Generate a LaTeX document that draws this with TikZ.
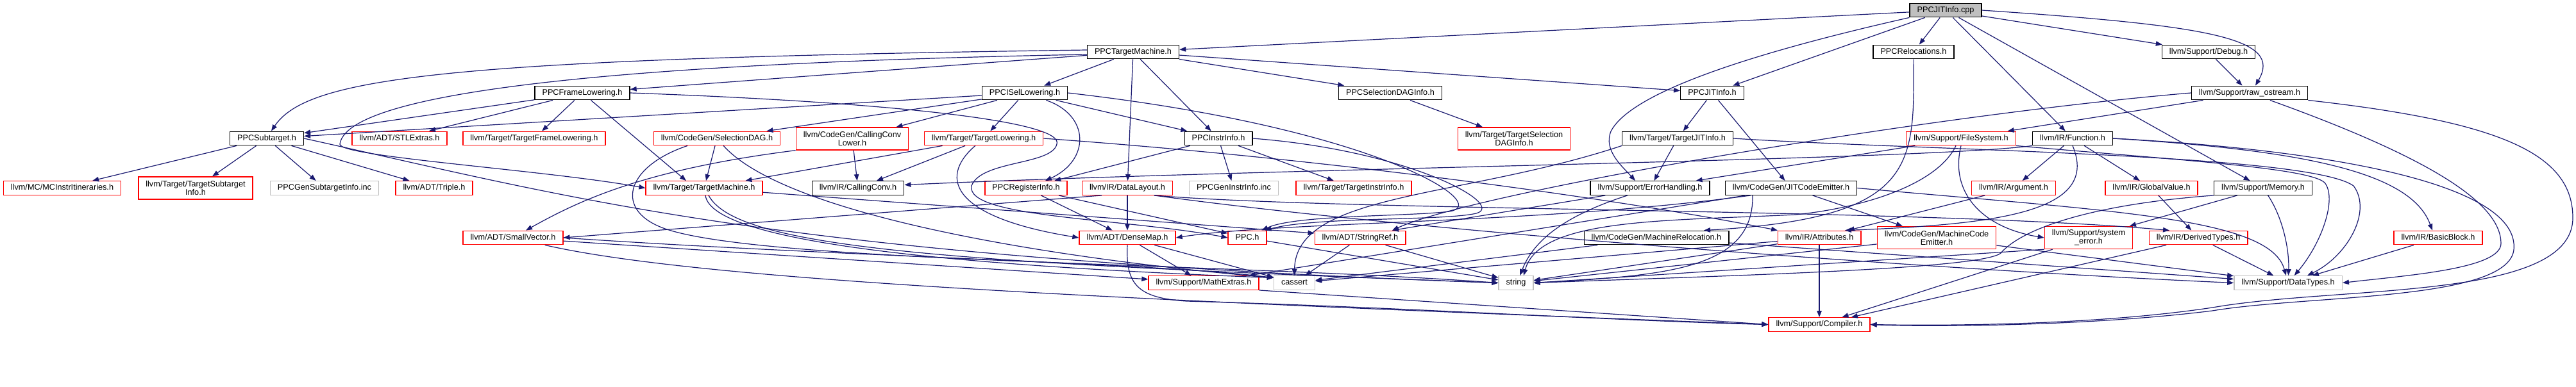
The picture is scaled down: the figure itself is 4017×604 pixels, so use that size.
\documentclass[tikz,border=0pt]{standalone}
\usepackage{fontspec}
\setmainfont{Liberation Sans}
\usepackage{tikz}
\usetikzlibrary{arrows.meta}

\definecolor{incl}{HTML}{191970}
\definecolor{boxgray}{HTML}{BFBFBF}

\tikzset{
  hdr/.style={draw=black, line width=1.4pt, fill=white, inner xsep=11.5pt, inner ysep=0pt,
    minimum height=21.5pt, text height=9.3pt, text depth=2.7pt, align=center,
    font=\fontsize{12.7}{13}\selectfont},
  two/.style={text height={}, text depth={}, minimum height=35pt},
  trunc/.style={hdr, draw=red},
  sys/.style={hdr, draw=boxgray},
  mainfile/.style={hdr, fill=boxgray},
  dep/.style={incl, line width=1.2pt, -{Triangle[length=10pt,width=7.5pt]}}
}

\begin{document}
\begin{tikzpicture}[x=1pt, y=-1pt]
  \useasboundingbox (0,0) rectangle (4017,604);

  % headers, row by row
  \node[mainfile] (cpp) at (3034,16) {PPCJITInfo.cpp};

  \node[hdr] (tm) at (1767,81) {PPCTargetMachine.h};
  \node[hdr] (reloc) at (2984,81) {PPCRelocations.h};
  \node[hdr] (dbg) at (3444,81) {llvm/Support/Debug.h};

  \node[hdr] (frame) at (908,145) {PPCFrameLowering.h};
  \node[hdr] (isel) at (1598,145) {PPCISelLowering.h};
  \node[hdr] (sdag) at (2168,145) {PPCSelectionDAGInfo.h};
  \node[hdr] (jit) at (2670,145) {PPCJITInfo.h};
  \node[hdr] (ros) at (3508,145) {llvm/Support/raw\_ostream.h};

  \node[hdr] (sub) at (416,216) {PPCSubtarget.h};
  \node[trunc] (stl) at (623,216) {llvm/ADT/STLExtras.h};
  \node[trunc] (tfl) at (833,216) {llvm/Target/TargetFrameLowering.h};
  \node[trunc] (seldag) at (1118,216) {llvm/CodeGen/SelectionDAG.h};
  \node[trunc, two] (ccl) at (1329,216.5) {llvm/CodeGen/CallingConv\\Lower.h};
  \node[trunc] (tlow) at (1534,216) {llvm/Target/TargetLowering.h};
  \node[hdr] (instr) at (1900,216) {PPCInstrInfo.h};
  \node[trunc, two] (tsdi) at (2361,216.5) {llvm/Target/TargetSelection\\DAGInfo.h};
  \node[hdr] (tjit) at (2616,216) {llvm/Target/TargetJITInfo.h};
  \node[trunc] (fs) at (3058,216) {llvm/Support/FileSystem.h};
  \node[hdr] (func) at (3232,216) {llvm/IR/Function.h};

  \node[trunc] (itin) at (97,293.5) {llvm/MC/MCInstrItineraries.h};
  \node[trunc, two] (tsub) at (305,293.5) {llvm/Target/TargetSubtarget\\Info.h};
  \node[sys] (gensub) at (506,293.5) {PPCGenSubtargetInfo.inc};
  \node[trunc] (triple) at (677,293.5) {llvm/ADT/Triple.h};
  \node[trunc] (tmach) at (1098,293.5) {llvm/Target/TargetMachine.h};
  \node[hdr] (cconv) at (1338,293.5) {llvm/IR/CallingConv.h};
  \node[trunc] (reg) at (1600,293.5) {PPCRegisterInfo.h};
  \node[trunc] (dl) at (1758,293.5) {llvm/IR/DataLayout.h};
  \node[sys] (genin) at (1924,293.5) {PPCGenInstrInfo.inc};
  \node[trunc] (tii) at (2111,293.5) {llvm/Target/TargetInstrInfo.h};
  \node[hdr] (err) at (2573,293.5) {llvm/Support/ErrorHandling.h};
  \node[hdr] (jce) at (2793,293.5) {llvm/CodeGen/JITCodeEmitter.h};
  \node[trunc] (arg) at (3140,293.5) {llvm/IR/Argument.h};
  \node[trunc] (gv) at (3355,293.5) {llvm/IR/GlobalValue.h};
  \node[hdr] (mem) at (3529,293.5) {llvm/Support/Memory.h};

  \node[trunc] (svec) at (800,371) {llvm/ADT/SmallVector.h};
  \node[trunc] (dmap) at (1758,371) {llvm/ADT/DenseMap.h};
  \node[trunc] (ppc) at (1945,371) {PPC.h};
  \node[trunc] (sref) at (2121,371) {llvm/ADT/StringRef.h};
  \node[hdr] (mreloc) at (2583,371) {llvm/CodeGen/MachineRelocation.h};
  \node[trunc] (attr) at (2837,371) {llvm/IR/Attributes.h};
  \node[trunc, two] (mce) at (3020,371) {llvm/CodeGen/MachineCode\\Emitter.h};
  \node[trunc, two] (syserr) at (3257,371) {llvm/Support/system\\\_error.h};
  \node[trunc] (dtypes) at (3428,371) {llvm/IR/DerivedTypes.h};
  \node[trunc] (bb) at (3802,371) {llvm/IR/BasicBlock.h};

  \node[trunc] (math) at (1877,441.5) {llvm/Support/MathExtras.h};
  \node[sys] (cassert) at (2018.5,441.5) {cassert};
  \node[sys] (str) at (2364,441.5) {string};
  \node[sys] (types) at (3568,441.5) {llvm/Support/DataTypes.h};

  \node[trunc] (comp) at (2837,506.5) {llvm/Support/Compiler.h};

  % PPCJITInfo.cpp
  \draw[dep] (cpp) -- (tm);
  \draw[dep] (cpp) -- (reloc);
  \draw[dep] (cpp) -- (jit);
  \draw[dep] (cpp.south west) .. controls (2700,90) and (2540,150) .. (2512,205)
    .. controls (2500,235) and (2530,260) .. ([xshift=-23pt]err.north);
  \draw[dep] (cpp) -- (func);
  \draw[dep] (cpp) -- (mem);
  \draw[dep] (cpp) -- (dbg);
  \draw[dep] (cpp.east) .. controls (3450,40) and (3560,60) .. ([xshift=9pt]ros.north);

  % PPCTargetMachine.h
  \draw[dep] ([yshift=3pt]tm.west) .. controls (700,92) and (480,120) .. ([xshift=7pt]sub.north);
  \draw[dep] (tm) -- (frame);
  \draw[dep] (tm) -- (isel);
  \draw[dep] (tm) -- (dl);
  \draw[dep] (tm) -- (instr);
  \draw[dep] (tm) -- (sdag);
  \draw[dep] (tm) -- (jit);
  \draw[dep] ([yshift=-4pt]tm.west) .. controls (900,100) and (540,150) .. (530,225)
    .. controls (530,245) and (850,265) .. (tmach.west);

  % PPCFrameLowering.h
  \draw[dep] (frame) -- (sub);
  \draw[dep] (frame) -- (stl);
  \draw[dep] (frame) -- (tfl);
  \draw[dep] (frame) -- ([xshift=-28pt]tmach.north);
  \draw[dep] (frame.east) .. controls (1400,160) and (1660,190) .. (1648,225)
    .. controls (1640,258) and (1530,250) .. (1515,290)
    .. controls (1505,340) and (1750,340) .. (ppc.west);

  % PPCISelLowering.h
  \draw[dep] (isel) -- (sub);
  \draw[dep] (isel) -- (seldag);
  \draw[dep] (isel) -- (ccl);
  \draw[dep] (isel) -- (tlow);
  \draw[dep] (isel) .. controls (1700,180) and (1700,250) .. ([xshift=30pt]reg.north);
  \draw[dep] (isel) -- (instr);
  \draw[dep] (isel.east) .. controls (2150,200) and (2330,320) .. (2260,330)
    .. controls (2200,338) and (2020,335) .. ([xshift=-8pt]ppc.north east);

  % the other PPC headers
  \draw[dep] (sdag) -- (tsdi);
  \draw[dep] (jit) -- (tjit);
  \draw[dep] (jit) -- (jce);
  \draw[dep] (reloc) .. controls (2985,260) and (2990,340) .. ([xshift=74pt]mreloc.north);
  \draw[dep] (instr) -- (reg);
  \draw[dep] (instr) -- (genin);
  \draw[dep] (instr) -- (tii);
  \draw[dep] (instr.east) .. controls (2200,235) and (2350,320) .. (2302,333)
    .. controls (2250,345) and (2050,338) .. ([xshift=-3pt]ppc.north east);
  \draw[dep] (reg) -- (dmap);
  \draw[dep] (reg) -- (ppc);
  \draw[dep] (ppc) -- (str);

  % PPCSubtarget.h
  \draw[dep] (sub) -- (itin);
  \draw[dep] (sub) -- (tsub);
  \draw[dep] (sub) -- (gensub);
  \draw[dep] (sub) -- (triple);
  \draw[dep] (sub.east) .. controls (900,310) and (1200,400) .. (str.west);

  % llvm/Target and llvm/CodeGen
  \draw[dep] (tmach) -- ([yshift=7pt]sref.west);
  \draw[dep] ([xshift=2pt]tmach.south) .. controls (1110,380) and (1500,415) .. ([yshift=8pt]cassert.west);
  \draw[dep] ([xshift=7pt]tmach.south) .. controls (1150,390) and (1500,410) .. (str.west);
  \draw[dep] (seldag) -- (tmach);
  \draw[dep] (seldag) .. controls (1220,330) and (1600,400) .. ([yshift=8pt]cassert.west);
  \draw[dep] ([xshift=-46pt]seldag.south) .. controls (975,260) and (955,330) .. (1040,358)
    .. controls (1200,410) and (1900,410) .. (str.west);
  \draw[dep] (ccl) -- (cconv);
  \draw[dep] (ccl.south west) .. controls (1000,265) and (900,315) .. ([xshift=20pt]svec.north);
  \draw[dep] (tlow) -- (tmach);
  \draw[dep] (tlow) -- (cconv);
  \draw[dep] (tlow) .. controls (1460,280) and (1490,340) .. (dmap.west);
  \draw[dep] (tlow.east) .. controls (2100,250) and (2550,315) .. ([xshift=-65pt]attr.north);
  \draw[dep] (tjit) -- (err);
  \draw[dep] (tjit.south west) .. controls (2280,310) and (2020,300) .. (cassert.north);
  \draw[dep] (tjit.east) .. controls (3000,235) and (3600,240) .. (3670,290)
    .. controls (3700,330) and (3660,400) .. ([xshift=30pt]types.north);
  \draw[dep] (jce) -- (mce);
  \draw[dep] ([xshift=-63pt]jce.south) .. controls (2400,350) and (2000,345) .. (dmap.east);
  \draw[dep] (jce.east) .. controls (3300,330) and (3540,340) .. (types);
  \draw[dep] (jce) -- (math);
  \draw[dep] ([xshift=-60pt]jce.south) .. controls (2735,420) and (2600,430) .. (str.east);
  \draw[dep] (mreloc) -- (cassert);
  \draw[dep] (mreloc) -- (types);
  \draw[dep] (mce) -- (types);
  \draw[dep] (mce) -- (str);

  % llvm/IR
  \draw[dep] (func) -- (arg);
  \draw[dep] (func) -- (gv);
  \draw[dep] (func.south west) .. controls (3000,250) and (2000,262) .. ([yshift=5pt]cconv.east);
  \draw[dep] (func.south) .. controls (3275,330) and (3120,350) .. ([xshift=40pt]attr.north);
  \draw[dep] (func.east) .. controls (3600,235) and (3760,270) .. ([xshift=-9pt]bb.north);
  \draw[dep] (func.east) .. controls (3650,235) and (3930,290) .. (3920,390)
    .. controls (3910,470) and (3600,460) .. (3450,485)
    .. controls (3250,510) and (3000,510) .. (comp.east);
  \draw[dep] (arg) -- (attr);
  \draw[dep] (gv) -- (dtypes);
  \draw[dep] (bb) -- (types);
  \draw[dep] (attr) -- (comp);
  \draw[dep] (attr) -- (str);
  \draw[dep] (attr) -- (cassert);
  \draw[dep] (dtypes) -- (types);
  \draw[dep] (dtypes) -- (comp);
  \draw[dep] (dl) -- (dmap);
  \draw[dep] ([xshift=-40pt]dl.south) -- (svec.east);
  \draw[dep] ([xshift=42pt]dl.south) .. controls (2100,330) and (3000,325) .. ([xshift=-45pt]dtypes.north);
  \draw[dep] ([xshift=42pt]dl.south) .. controls (2200,360) and (3000,420) .. (types.west);

  % llvm/Support and llvm/ADT
  \draw[dep] (dbg) -- (ros);
  \draw[dep] (ros) -- (fs);
  \draw[dep] (ros.west) .. controls (3000,180) and (2300,300) .. ([xshift=50pt]sref.north);
  \draw[dep] (ros) .. controls (3800,250) and (3900,320) .. (3900,380)
    .. controls (3900,420) and (3750,430) .. (types.east);
  \draw[dep] (ros.south east) .. controls (3900,190) and (4012,240) .. (4012,340)
    .. controls (4012,470) and (3650,445) .. (3450,480)
    .. controls (3250,510) and (3000,508) .. (comp.east);
  \draw[dep] (fs) -- (err);
  \draw[dep] (fs.south) .. controls (3040,300) and (3090,355) .. (syserr.west);
  \draw[dep] (fs.south east) .. controls (3400,250) and (3600,262) .. (3625,285)
    .. controls (3645,310) and (3620,380) .. (types);
  \draw[dep] ([xshift=-8pt]fs.south) .. controls (3020,290) and (2900,325) .. (2800,335)
    .. controls (2600,345) and (2400,340) .. ([xshift=12pt]str.north);
  \draw[dep] (err) -- ([xshift=50pt]sref.north);
  \draw[dep] (err) .. controls (2430,340) and (2390,380) .. ([xshift=6pt]str.north);
  \draw[dep] (mem) .. controls (3560,340) and (3570,390) .. (types);
  \draw[dep] (mem) -- (syserr);
  \draw[dep] (mem.south west) .. controls (3250,320) and (3150,360) .. (3120,395)
    .. controls (3090,420) and (2700,430) .. (str.east);
  \draw[dep] (syserr.south west) -- (str.east);
  \draw[dep] (syserr) -- (comp);
  \draw[dep] (dmap) -- (math);
  \draw[dep] (dmap) -- (cassert);
  \draw[dep] (dmap.south) .. controls (1755,445) and (1775,465) .. (1850,470)
    .. controls (2200,480) and (2500,500) .. (comp.west);
  \draw[dep] (svec) -- (math);
  \draw[dep] (svec.east) .. controls (1300,400) and (1800,410) .. ([yshift=8pt]cassert.west);
  \draw[dep] (svec) .. controls (1100,440) and (1800,470) .. (comp.west);
  \draw[dep] (sref) -- (cassert);
  \draw[dep] (sref) -- (str);
  \draw[dep] (math.south east) -- (comp.west);
\end{tikzpicture}
\end{document}
